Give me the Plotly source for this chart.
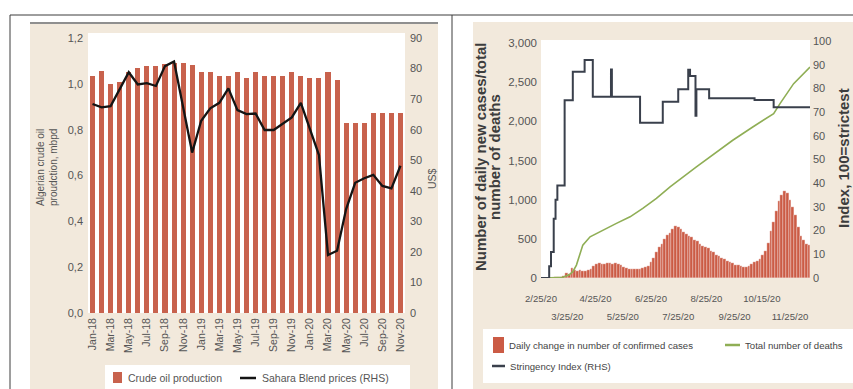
import plotly.graph_objects as go
import pandas as pd

W, H = 853, 389
FONT = "Liberation Sans, Arial, sans-serif"
BOLD = "Liberation Sans, Arial, sans-serif"

# ---------------- Left panel data ----------------
months = ["Jan-18", "Feb-18", "Mar-18", "Apr-18", "May-18", "Jun-18", "Jul-18", "Aug-18",
          "Sep-18", "Oct-18", "Nov-18", "Dec-18", "Jan-19", "Feb-19", "Mar-19", "Apr-19",
          "May-19", "Jun-19", "Jul-19", "Aug-19", "Sep-19", "Oct-19", "Nov-19", "Dec-19",
          "Jan-20", "Feb-20", "Mar-20", "Apr-20", "May-20", "Jun-20", "Jul-20", "Aug-20",
          "Sep-20", "Oct-20", "Nov-20"]
production = [1.035, 1.058, 0.998, 1.007, 1.05, 1.068, 1.08, 1.08, 1.085, 1.09, 1.09, 1.083,
              1.05, 1.05, 1.035, 1.035, 1.05, 1.026, 1.05, 1.035, 1.035, 1.035, 1.05, 1.035,
              1.026, 1.026, 1.05, 1.018, 0.828, 0.828, 0.828, 0.872, 0.872, 0.872, 0.872]
sahara = [68.4, 67.3, 67.7, 73.5, 78.8, 74.8, 75.2, 74.3, 80.8, 82.3, 67.0, 52.5,
          62.9, 67.0, 68.8, 73.5, 66.4, 65.1, 65.3, 59.9, 59.9, 62.1, 64.0, 68.8,
          60.5, 51.7, 19.0, 20.4, 34.0, 42.6, 44.1, 45.2, 41.6, 40.8, 48.2]
left_ticks = [0, 0.2, 0.4, 0.6, 0.8, 1.0, 1.2]
left_ticktext = ["0,0", "0,2", "0,4", "0,6", "0,8", "1,0", "1,2"]
usd_ticks = [0, 10, 20, 30, 40, 50, 60, 70, 80, 90]

# ---------------- Right panel data ----------------
case_start = "2020-02-26"   # one value every 3 days
cases = [0, 0, 1, 5, 3, 8, 12, 15, 30, 60,
         55, 130, 100, 95, 100, 90, 95, 105, 120, 150,
         175, 190, 180, 185, 195, 190, 185, 190, 180, 160,
         140, 125, 120, 115, 110, 115, 120, 125, 135, 150,
         210, 260, 330, 400, 440, 500, 550, 580, 630, 660,
         650, 620, 590, 560, 540, 520, 490, 470, 430, 410,
         400, 380, 350, 330, 300, 280, 260, 240, 220, 200,
         190, 170, 160, 150, 145, 135, 150, 180, 200, 215,
         240, 290, 350, 450, 600, 720, 850, 980, 1060, 1110,
         1080, 1000, 900, 800, 650, 540, 480, 440, 420]
case_dates = pd.date_range(case_start, periods=len(cases), freq="3D")

death_dates = ["2020-02-29", "2020-03-12", "2020-03-20", "2020-03-27", "2020-03-31",
               "2020-04-04", "2020-04-11", "2020-04-19", "2020-05-03", "2020-05-18",
               "2020-06-02", "2020-06-16", "2020-07-01", "2020-07-16", "2020-08-14",
               "2020-09-23", "2020-10-15", "2020-11-07", "2020-11-14", "2020-11-29",
               "2020-12-17"]
deaths = [0, 2, 10, 40, 80, 165, 420, 526, 611, 697, 781, 888, 1015, 1163, 1418,
          1758, 1928, 2098, 2226, 2481, 2693]

string_dates = ["2020-02-25", "2020-03-05", "2020-03-07", "2020-03-10", "2020-03-12",
                "2020-03-14", "2020-03-22", "2020-03-31", "2020-04-13", "2020-04-22",
                "2020-05-12", "2020-05-13", "2020-06-13", "2020-07-08", "2020-07-25",
                "2020-08-05", "2020-08-07", "2020-08-13", "2020-08-14", "2020-08-28",
                "2020-10-17", "2020-11-07", "2020-12-17"]
stringency = [0, 5, 11, 25, 33, 39, 75, 87, 92, 76.5, 88, 76.5, 65.5, 74.4, 79.6,
              87.8, 85.2, 68.4, 79.6, 75.8, 75.1, 72, 72]

date_ticks_row1 = ["2020-02-25", "2020-04-25", "2020-06-25", "2020-08-25", "2020-10-25"]
date_text_row1 = ["2/25/20", "4/25/20", "6/25/20", "8/25/20", "10/15/20"]
date_ticks_row2 = ["2020-03-25", "2020-05-25", "2020-07-25", "2020-09-25", "2020-11-25"]
date_text_row2 = ["3/25/20", "5/25/20", "7/25/20", "9/25/20", "11/25/20"]
x2_range = ["2020-02-25", "2020-12-17"]

BAR_L = "#c8624d"
BAR_R = "#cb5b45"
GREEN = "#8fae55"
SLATE = "#3a404c"
BEIGE = "#f2e9dc"
GREY = "#555555"
TITLE = "#3d3d3d"


def fx(x):
    return x / W


def fy(y):
    return 1 - y / H


fig = go.Figure()
fig.add_trace(go.Bar(x=months, y=production, name="Crude oil production",
                     marker=dict(color=BAR_L, line=dict(width=0)), width=0.56,
                     xaxis="x", yaxis="y", showlegend=False))
fig.add_trace(go.Scatter(x=months, y=sahara, name="Sahara Blend prices (RHS)", mode="lines",
                         line=dict(color="#141414", width=2.3),
                         xaxis="x", yaxis="y2", showlegend=False))
fig.add_trace(go.Bar(x=case_dates, y=cases, name="Daily change in number of confirmed cases",
                     marker=dict(color=BAR_R, line=dict(color="white", width=0.3)),
                     width=3 * 86400000, xaxis="x2", yaxis="y3", showlegend=False))
fig.add_trace(go.Scatter(x=death_dates, y=deaths, name="Total number of deaths", mode="lines",
                         line=dict(color=GREEN, width=1.6),
                         xaxis="x2", yaxis="y3", showlegend=False))
fig.add_trace(go.Scatter(x=string_dates, y=stringency, name="Stringency Index (RHS)",
                         mode="lines", line=dict(color=SLATE, width=2, shape="hv"),
                         xaxis="x2", yaxis="y4", showlegend=False))
# invisible carrier so the second row of date labels has an axis of its own
fig.add_trace(go.Scatter(x=x2_range, y=[None, None], mode="lines", hoverinfo="skip",
                         xaxis="x3", yaxis="y3", showlegend=False))

shapes = []


def rect(x0, y0, x1, y1, color, layer="below"):
    shapes.append(dict(type="rect", xref="paper", yref="paper", x0=fx(x0), x1=fx(x1),
                       y0=fy(y1), y1=fy(y0), fillcolor=color, line=dict(width=0), layer=layer))


def line(x0, y0, x1, y1, color, width, layer="below"):
    shapes.append(dict(type="line", xref="paper", yref="paper", x0=fx(x0), x1=fx(x1),
                       y0=fy(y0), y1=fy(y1), line=dict(color=color, width=width), layer=layer))


rect(30, 22, 438, 389, BEIGE)
rect(473, 22, 853, 389, BEIGE)
line(30, 23, 438, 23, "#8f8f8f", 2)
rect(88, 33, 405, 313, "white")
rect(541, 40, 810, 278, "white")
rect(105, 365, 410, 389, "white")
rect(483, 329, 853, 383, "white")
line(10, 15, 853, 15, "#3c3c3c", 1)
line(10, 15, 10, 389, "#3c3c3c", 1)
line(452, 15, 452, 389, "#3c3c3c", 1)

# legend symbols
rect(113, 372, 122, 383, BAR_L, "above")
line(240, 378, 256, 378, "#141414", 2.5, "above")
rect(493, 337, 504, 353, BAR_R, "above")
line(725, 345, 740, 345, GREEN, 2.5, "above")
line(492, 366, 505, 366, SLATE, 2.5, "above")

annotations = []


def text(x, y, s, size, color=GREY, xanchor="left", angle=0, family=FONT):
    annotations.append(dict(x=fx(x), y=fy(y), xref="paper", yref="paper", text=s,
                            showarrow=False, xanchor=xanchor, yanchor="middle",
                            textangle=angle, font=dict(family=family, size=size, color=color)))


text(126, 378, "Crude oil production", 10.5)
text(260, 378, "Sahara Blend prices (RHS)", 10.5)
text(507, 345, "Daily change in number of confirmed cases", 9.6, "#444")
text(743, 345, "Total number of deaths", 9.6, "#444")
text(508, 366, "Stringency Index (RHS)", 9.6, "#444")

text(47, 168, "Algerian crude oil<br>proudction, mbpd", 10, xanchor="center", angle=-90)
text(432, 178, "US$", 10.5, xanchor="center", angle=-90)
text(480, 157, "<b>Number of daily new cases/total</b>", 15, TITLE,
     xanchor="center", angle=-90, family=BOLD)
text(494, 157, "<b>number of deaths</b>", 15, TITLE,
     xanchor="center", angle=-90, family=BOLD)
text(843, 158, "<b>Index, 100=strictest</b>", 15, TITLE, xanchor="center", angle=-90,
     family=BOLD)

axis_common = dict(showgrid=False, zeroline=False, showline=False, ticks="", automargin=False)

fig.update_layout(
    width=W, height=H, margin=dict(l=0, r=0, t=0, b=0, autoexpand=False),
    paper_bgcolor="white", plot_bgcolor="rgba(0,0,0,0)",
    bargap=0, showlegend=False,
    font=dict(family=FONT, color=GREY),
    shapes=shapes, annotations=annotations,
    xaxis=dict(domain=[fx(88), fx(405)], anchor="y", type="category",
               categoryorder="array", categoryarray=months, range=[-0.5, 34.5],
               tickvals=months[::2], tickangle=-90, tickfont=dict(size=10.5, color=GREY),
               ticklabelstandoff=2, **axis_common),
    yaxis=dict(domain=[fy(313), fy(33)], anchor="x", range=[0, 1.2218],
               tickvals=left_ticks, ticktext=left_ticktext,
               tickfont=dict(size=11, color=GREY), ticklabelstandoff=4, **axis_common),
    yaxis2=dict(overlaying="y", anchor="x", side="right", range=[0, 91.64],
                tickvals=usd_ticks, tickfont=dict(size=11, color=GREY),
                ticklabelstandoff=4, **axis_common),
    xaxis2=dict(domain=[fx(541), fx(810)], anchor="y3", type="date",
                range=x2_range, tickvals=date_ticks_row1,
                ticktext=date_text_row1, tickangle=0,
                tickfont=dict(size=9.6, color=GREY), ticklabelstandoff=13, **axis_common),
    xaxis3=dict(overlaying="x2", anchor="y3", type="date", side="bottom",
                range=x2_range, tickvals=date_ticks_row2,
                ticktext=date_text_row2, tickangle=0,
                tickfont=dict(size=9.6, color=GREY), ticklabelstandoff=31, **axis_common),
    yaxis3=dict(domain=[fy(278), fy(40)], anchor="x2", range=[0, 3038],
                tickvals=[0, 500, 1000, 1500, 2000, 2500, 3000], tickformat=",d",
                tickfont=dict(size=11.5, color=GREY), ticklabelstandoff=3, **axis_common),
    yaxis4=dict(overlaying="y3", anchor="x2", side="right", range=[0, 100.4],
                tickvals=[0, 10, 20, 30, 40, 50, 60, 70, 80, 90, 100],
                tickfont=dict(size=11, color=GREY), ticklabelstandoff=2, **axis_common),
)

fig.write_html("out.html")
